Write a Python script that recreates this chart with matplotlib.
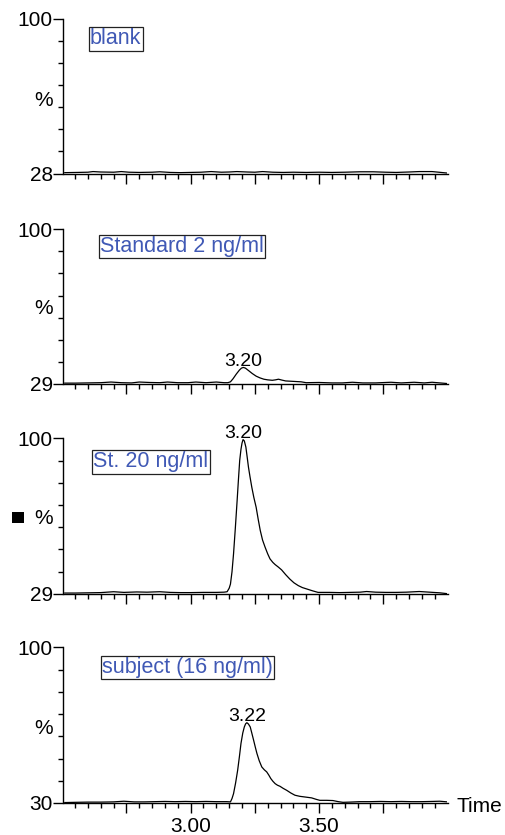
import matplotlib
matplotlib.use("Agg")
import matplotlib.pyplot as plt
from matplotlib.patches import Rectangle
from matplotlib.ticker import FixedLocator, FixedFormatter

plt.rcParams['font.family'] = ['Liberation Sans', 'DejaVu Sans']

# ---------------- data ----------------
sample_labels = ["blank", "Standard 2 ng/ml", "St. 20 ng/ml", "subject (16 ng/ml)"]
y_min = [28, 29, 29, 30]
y_max = [100, 100, 100, 100]
peak_labels = [None, "3.20", "3.20", "3.22"]
peak_time = [None, 3.205, 3.204, 3.219]
peak_value = [None, 36.6, 99.4, 66.1]

x_major_ticks = [2.75, 3.00, 3.25, 3.50, 3.75]
x_major_labels = ["", "3.00", "", "3.50", ""]
x_minor_ticks = [2.55, 2.60, 2.65, 2.70, 2.80, 2.85, 2.90, 2.95, 3.05, 3.10, 3.15,
                 3.20, 3.30, 3.35, 3.40, 3.45, 3.55, 3.60, 3.65, 3.70, 3.80, 3.85,
                 3.90, 3.95]

t_blank = [2.51, 2.56, 2.60, 2.62, 2.65, 2.70, 2.73, 2.76, 2.80, 2.85, 2.88, 2.92,
           2.96, 3.00, 3.04, 3.08, 3.12, 3.15, 3.18, 3.22, 3.25, 3.28, 3.32, 3.36,
           3.40, 3.45, 3.50, 3.55, 3.60, 3.66, 3.71, 3.76, 3.80, 3.85, 3.89, 3.94, 4.00]
v_blank = [28.4, 28.5, 28.6, 28.9, 28.7, 28.6, 28.9, 28.6, 28.5, 28.6, 28.8, 28.5,
           28.4, 28.5, 28.6, 28.9, 28.6, 28.7, 28.9, 28.7, 28.6, 28.9, 28.6, 28.5,
           28.6, 28.5, 28.6, 28.5, 28.6, 28.8, 28.8, 28.6, 28.5, 28.7, 28.9, 28.9, 28.2]

t_std2 = [2.51, 2.55, 2.60, 2.65, 2.69, 2.73, 2.77, 2.80, 2.84, 2.88, 2.91, 2.95,
          2.99, 3.02, 3.06, 3.10, 3.13, 3.145, 3.155, 3.165, 3.178, 3.19, 3.198,
          3.205, 3.213, 3.225, 3.24, 3.255, 3.27, 3.285, 3.30, 3.318, 3.33, 3.342,
          3.355, 3.37, 3.40, 3.43, 3.45, 3.50, 3.55, 3.59, 3.63, 3.67, 3.72, 3.78,
          3.82, 3.87, 3.91, 3.94, 3.97, 4.00]
v_std2 = [29.4, 29.4, 29.5, 29.6, 29.9, 29.6, 29.5, 29.9, 29.7, 29.6, 29.9, 29.6,
          29.6, 29.9, 29.6, 29.9, 29.6, 29.6, 30.0, 31.4, 33.6, 35.4, 36.3,
          36.6, 36.3, 35.2, 33.8, 32.6, 31.8, 31.2, 30.9, 30.7, 30.9, 31.2,
          30.8, 30.4, 30.2, 30.0, 29.6, 29.7, 29.5, 29.5, 29.8, 29.5, 29.5, 29.8,
          29.5, 29.8, 29.5, 29.8, 29.5, 29.2]

t_std20 = [2.51, 2.55, 2.60, 2.65, 2.70, 2.74, 2.79, 2.83, 2.88, 2.92, 2.96, 3.00,
           3.05, 3.10, 3.13, 3.142, 3.150, 3.155, 3.161, 3.167, 3.174, 3.181, 3.186,
           3.191, 3.196, 3.200, 3.204, 3.209, 3.215, 3.220, 3.225, 3.231, 3.238,
           3.246, 3.255, 3.263, 3.271, 3.280, 3.290, 3.300, 3.309, 3.320, 3.329,
           3.341, 3.354, 3.370, 3.386, 3.402, 3.419, 3.435, 3.451, 3.475, 3.496,
           3.54, 3.58, 3.62, 3.66, 3.685, 3.72, 3.76, 3.80, 3.84, 3.89, 3.93, 3.97, 4.00]
v_std20 = [29.3, 29.3, 29.4, 29.5, 29.9, 29.6, 29.8, 29.7, 29.9, 29.6, 29.5, 29.5,
           29.6, 29.6, 29.7, 29.9, 31.5, 33.4, 39.0, 47.2, 59.0, 71.6, 81.0,
           89.9, 95.0, 97.8, 99.4, 98.8, 96.0, 91.5, 86.9, 82.5, 77.7,
           73.0, 68.5, 63.0, 57.9, 53.5, 50.2, 47.2, 44.9, 43.3, 42.3,
           41.2, 39.9, 37.7, 35.7, 34.0, 32.7, 31.8, 31.2, 30.3, 29.6,
           29.6, 29.5, 29.6, 29.7, 30.0, 29.7, 29.6, 29.6, 29.7, 30.0, 29.7, 29.4, 29.0]

t_subj = [2.51, 2.55, 2.60, 2.65, 2.70, 2.74, 2.78, 2.82, 2.86, 2.90, 2.94, 2.98,
          3.02, 3.06, 3.10, 3.14, 3.155, 3.161, 3.167, 3.175, 3.183, 3.190, 3.196,
          3.203, 3.209, 3.214, 3.219, 3.225, 3.232, 3.238, 3.245, 3.252, 3.258,
          3.267, 3.277, 3.287, 3.296, 3.304, 3.312, 3.320, 3.329, 3.338, 3.348,
          3.360, 3.374, 3.390, 3.406, 3.425, 3.445, 3.471, 3.490, 3.503, 3.530,
          3.554, 3.575, 3.593, 3.62, 3.66, 3.70, 3.74, 3.78, 3.82, 3.86, 3.90,
          3.94, 3.97, 4.00]
v_subj = [30.2, 30.3, 30.4, 30.4, 30.5, 30.8, 30.5, 30.5, 30.6, 30.7, 30.6, 30.7,
          30.6, 30.7, 30.6, 30.6, 30.5, 32.0, 34.2, 39.0, 44.7, 51.0, 56.8,
          61.5, 64.2, 65.6, 66.1, 65.5, 64.2, 61.5, 58.3, 55.0, 52.3,
          49.0, 46.2, 44.9, 44.0, 42.6, 41.0, 39.8, 38.7, 38.0, 37.5,
          36.6, 35.7, 34.5, 33.5, 33.0, 32.7, 32.3, 31.6, 31.2, 31.2,
          31.1, 30.6, 30.3, 30.4, 30.6, 30.6, 30.7, 30.6, 30.7, 30.6, 30.6,
          30.7, 30.8, 30.5]

times = [t_blank, t_std2, t_std20, t_subj]
values = [v_blank, v_std2, v_std20, v_subj]

# ---------------- layout ----------------
W, H = 506, 835
fig = plt.figure(figsize=(W / 100, H / 100), dpi=100)

left_px, right_px = 63.5, 447.5
panel_px = [(19, 173.5), (229.3, 384), (438.3, 593.7), (647.3, 803)]
pct_y_px = [101, 308, 518, 728]
box_px = [(90, 39), (100, 246.5), (93.5, 462), (102, 667.5)]
FS = 15
text_blue = '#4059b5'

for i in range(4):
    top, bot = panel_px[i]
    ax = fig.add_axes([left_px / W, 1 - bot / H, (right_px - left_px) / W, (bot - top) / H])
    ax.plot(times[i], values[i], color='black', lw=0.9)
    ax.set_xlim(2.505, 4.0)
    ax.set_ylim(y_min[i], y_max[i])
    for s in ['top', 'right']:
        ax.spines[s].set_visible(False)
    for s in ['left', 'bottom']:
        ax.spines[s].set_linewidth(1.0)
        ax.spines[s].set_color('black')

    # x ticks
    ax.xaxis.set_major_locator(FixedLocator(x_major_ticks))
    ax.xaxis.set_minor_locator(FixedLocator(x_minor_ticks))
    if i == 3:
        ax.xaxis.set_major_formatter(FixedFormatter(x_major_labels))
    else:
        ax.xaxis.set_major_formatter(FixedFormatter([""] * len(x_major_ticks)))
    ax.tick_params(axis='x', which='major', direction='out', length=7, width=1,
                   labelsize=FS, pad=2.8)
    ax.tick_params(axis='x', which='minor', direction='out', length=3.6, width=1)

    # y ticks
    step = (y_max[i] - y_min[i]) / 7
    ax.yaxis.set_major_locator(FixedLocator([y_min[i], y_max[i]]))
    ax.yaxis.set_major_formatter(FixedFormatter([str(y_min[i]), str(y_max[i])]))
    ax.yaxis.set_minor_locator(FixedLocator([y_min[i] + k * step for k in range(1, 7)]))
    ax.tick_params(axis='y', which='major', direction='out', length=7.5, width=1,
                   labelsize=FS, pad=0.3)
    ax.tick_params(axis='y', which='minor', direction='out', length=3.4, width=1)

    # % label
    fig.text(53 / W, 1 - pct_y_px[i] / H, "%", ha='right', va='center', fontsize=FS)

    # sample label box
    bx, by = box_px[i]
    fig.text(bx / W, 1 - by / H, sample_labels[i], ha='left', va='center',
             fontsize=15.5, color=text_blue,
             bbox=dict(boxstyle='square,pad=0.06', fc='white', ec='#222222', lw=0.9))

    # peak label
    if peak_labels[i] is not None:
        ax.annotate(peak_labels[i], xy=(peak_time[i], peak_value[i]),
                    xytext=(0, 1.2), textcoords='offset points',
                    ha='center', va='baseline', fontsize=14, annotation_clip=False)

    if i == 3:
        fig.text(457 / W, 1 - 806 / H, "Time", ha='left', va='center', fontsize=FS)

# black square marker beside panel 3
fig.add_artist(Rectangle((12 / W, 1 - 523 / H), 12 / W, 11 / H,
                         transform=fig.transFigure, fc='black', ec='none'))

fig.savefig("out.png", dpi=100)
